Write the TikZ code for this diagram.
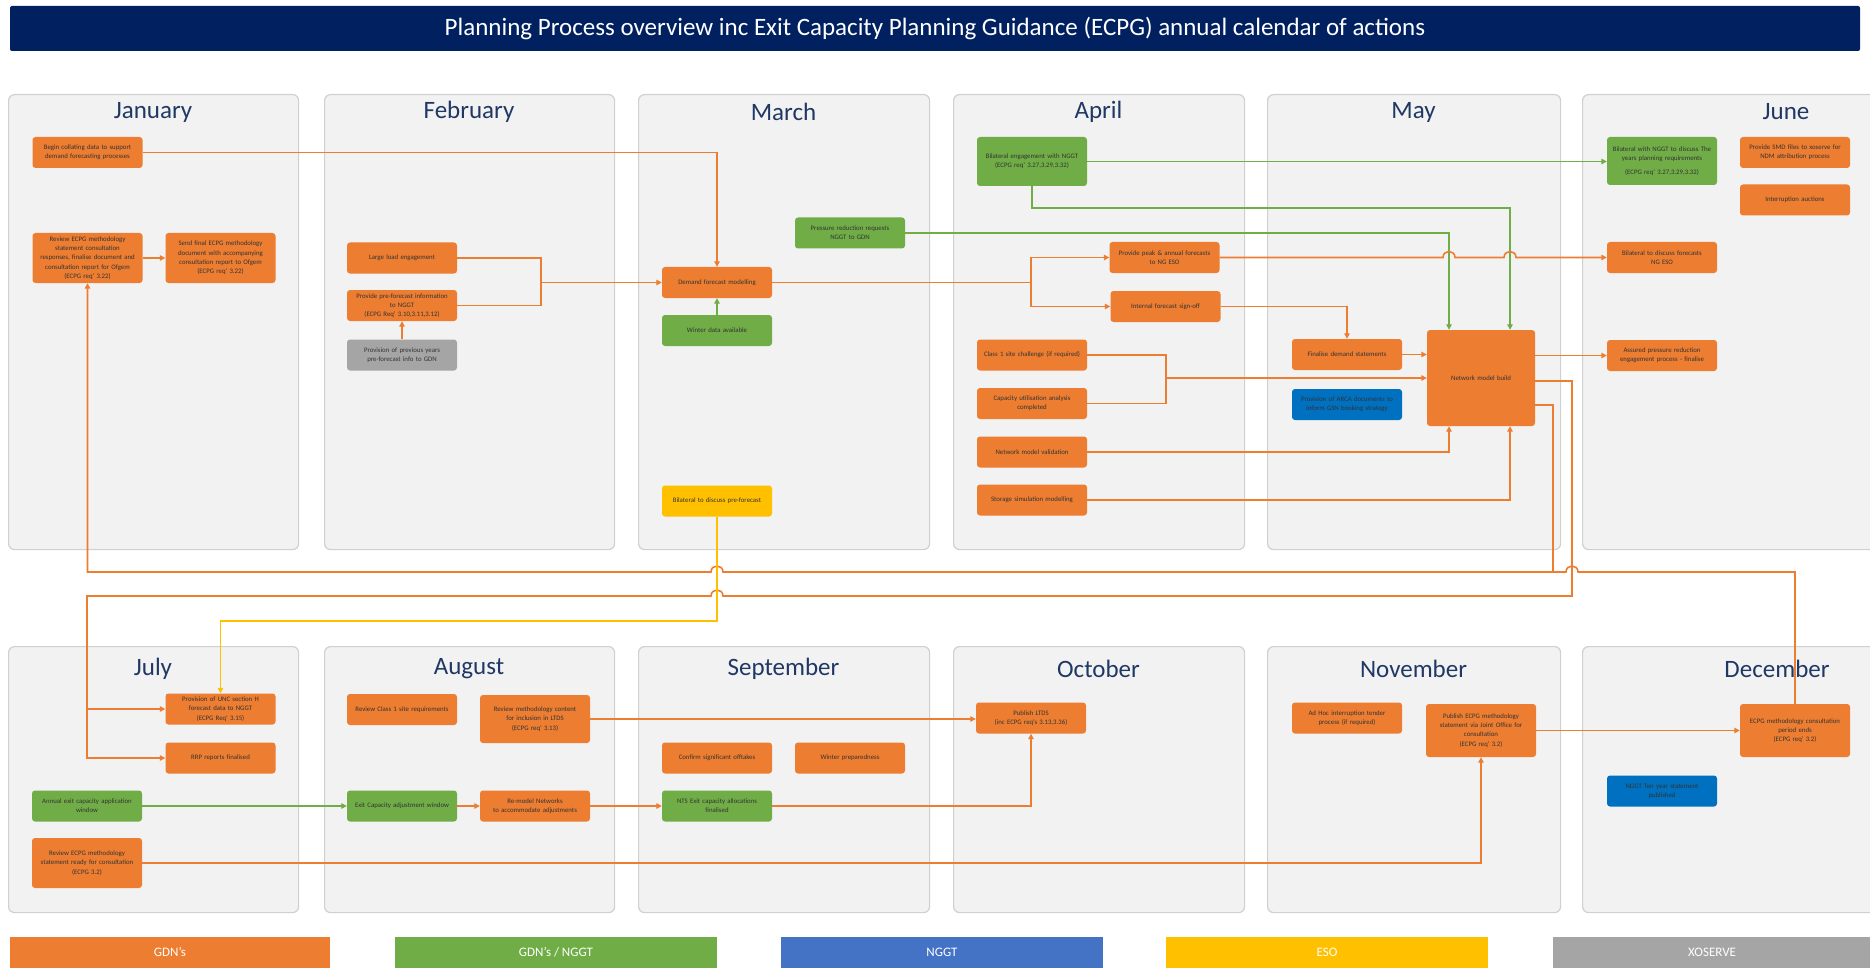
\documentclass[tikz,border=0pt]{standalone}
\usepackage{fontspec}
\setmainfont{Carlito}
\usetikzlibrary{arrows.meta}
\definecolor{navy}{HTML}{002060}
\definecolor{mtitle}{HTML}{1F3864}
\definecolor{ora}{HTML}{ED7D31}
\definecolor{grn}{HTML}{70AD47}
\definecolor{ylw}{HTML}{FFC000}
\definecolor{gry}{HTML}{A5A5A5}
\definecolor{blu}{HTML}{0070C0}
\definecolor{lblu}{HTML}{4472C4}
\definecolor{mfill}{HTML}{F2F2F2}
\definecolor{mline}{HTML}{D0D0D0}
\definecolor{ntext}{HTML}{333333}
\tikzset{
  task/.style={rounded corners=3pt, text width=104pt, align=center, minimum width=110pt,
    minimum height=31pt, inner xsep=3pt, inner ysep=2pt, font=\fontsize{6.8}{9.3}\selectfont, text=ntext},
  ot/.style={task, fill=ora},
  gt/.style={task, fill=grn},
  yt/.style={task, fill=ylw},
  st/.style={task, fill=gry},
  bt/.style={task, fill=blu},
  month/.style={draw=mline, line width=1.2pt, fill=mfill, rounded corners=6pt, anchor=north west},
  mname/.style={font=\fontsize{25}{28}\selectfont, text=mtitle},
  tip/.style={-{Triangle[length=5.5pt,width=5.5pt]}},
  ol/.style={line width=1.6pt, draw=ora},
  oc/.style={ol, tip},
  gl/.style={line width=1.6pt, draw=grn},
  gc/.style={gl, tip},
  yc/.style={line width=1.6pt, draw=ylw, tip},
  legend/.style={minimum width=320pt, minimum height=40pt, anchor=north west, inner sep=0pt},
  legtext/.style={text=white, font=\fontsize{13}{15}\selectfont}
}
\begin{document}
\begin{tikzpicture}[x=1pt,y=-1pt]
\useasboundingbox (0,0) rectangle (1870,968);
\fill[white] (0,0) rectangle (1870,968);

% title bar
\node[fill=navy, rounded corners=2pt, minimum width=1850pt, minimum height=45pt, text=white,
  font=\fontsize{25}{28}\selectfont] (title) at (935,28.5)
  {Planning Process overview inc Exit Capacity Planning Guidance (ECPG) annual calendar of actions};

% month panels
\node[month, minimum width=290pt, minimum height=455pt] (mjan) at (8,94) {};
\node[month, minimum width=290pt, minimum height=455pt] (mfeb) at (324,94) {};
\node[month, minimum width=291pt, minimum height=455pt] (mmar) at (638,94) {};
\node[month, minimum width=291pt, minimum height=455pt] (mapr) at (953,94) {};
\node[month, minimum width=293pt, minimum height=455pt] (mmay) at (1267,94) {};
\node[month, minimum width=310pt, minimum height=455pt] (mjun) at (1582,94) {};
\node[month, minimum width=290pt, minimum height=266pt] (mjul) at (8,646) {};
\node[month, minimum width=290pt, minimum height=266pt] (maug) at (324,646) {};
\node[month, minimum width=291pt, minimum height=266pt] (msep) at (638,646) {};
\node[month, minimum width=291pt, minimum height=266pt] (moct) at (953,646) {};
\node[month, minimum width=293pt, minimum height=266pt] (mnov) at (1267,646) {};
\node[month, minimum width=310pt, minimum height=266pt] (mdec) at (1582,646) {};

\node[mname] (tjan) at (153,112) {January};
\node[mname] (tfeb) at (469,112) {February};
\node[mname] (tmar) at (783.5,112) {March};
\node[mname] (tapr) at (1098.5,112) {April};
\node[mname] (tmay) at (1413.5,112) {May};
\node[mname] (tjun) at (1786,112) {June};
\node[mname] (tjul) at (153,669) {July};
\node[mname] (taug) at (469,669) {August};
\node[mname] (tsep) at (783.5,669) {September};
\node[mname] (toct) at (1098.5,669) {October};
\node[mname] (tnov) at (1413.5,669) {November};
\node[mname] (tdec) at (1777,669) {December};

% January
\node[ot] (collate) at (87.5,152.5) {Begin collating data to support\\demand forecasting processes};
\node[ot, minimum height=50pt] (reviewj) at (87.5,258) {Review ECPG methodology\\statement consultation\\responses, finalise document and\\consultation report for Ofgem\\(ECPG req' 3.22)};
\node[ot, minimum height=50pt] (sendf) at (220.5,258) {Send final ECPG methodology\\document with accompanying\\consultation report to Ofgem\\(ECPG req' 3.22)};
% February
\node[ot] (large) at (402,258) {Large load engagement};
\node[ot] (preinfo) at (402,305.5) {Provide pre-forecast information\\to NGGT\\(ECPG Req' 3.10,3.11,3.12)};
\node[st] (prev) at (402,355) {Provision of previous years\\pre-forecast info to GDN};
% March
\node[ot] (dfm) at (717,282.5) {Demand forecast modelling};
\node[gt] (winter) at (717,330.5) {Winter data available};
\node[gt] (press) at (850,233) {Pressure reduction requests\\NGGT to GDN};
\node[yt] (bilpre) at (717,501) {Bilateral to discuss pre-forecast};
% April
\node[gt, minimum height=49pt] (bileng) at (1032,161.5) {Bilateral engagement with NGGT\\(ECPG req' 3.27,3.29,3.32)};
\node[ot] (peak) at (1164.5,257.5) {Provide peak \& annual forecasts\\to NG ESO};
\node[ot] (intern) at (1165.5,306.5) {Internal forecast sign-off};
\node[ot] (class1) at (1032,355) {Class 1 site challenge (if required)};
\node[ot] (caput) at (1032,403.5) {Capacity utilisation analysis\\completed};
\node[ot] (nmv) at (1032,452) {Network model validation};
\node[ot] (ssm) at (1032,500) {Storage simulation modelling};
% May
\node[ot] (final) at (1347,354.5) {Finalise demand statements};
\node[bt] (arca) at (1347,404.5) {Provision of ARCA documents to\\inform GSN booking strategy};
\node[ot, minimum width=108pt, text width=100pt, minimum height=96pt] (nmb) at (1481,378) {Network model build};
% June
\node[gt, minimum height=48pt] (bilngg) at (1662,161) {Bilateral with NGGT to discuss The\\years planning requirements\\[4pt](ECPG req' 3.27,3.29,3.32)};
\node[ot] (smd) at (1795,152.5) {Provide SMD files to xoserve for\\NDM attribution process};
\node[ot] (intauc) at (1795,200) {Interruption auctions};
\node[ot] (bilfc) at (1662,257.5) {Bilateral to discuss forecasts\\NG ESO};
\node[ot] (assured) at (1662,355.5) {Assured pressure reduction\\engagement process - finalise};
% July
\node[ot] (unc) at (220.5,709) {Provision of UNC section H\\forecast data to NGGT\\(ECPG Req' 3.15)};
\node[ot] (rrp) at (220.5,758) {RRP reports finalised};
\node[gt] (annual) at (87,806) {Annual exit capacity application\\window};
\node[ot, minimum height=50pt] (reviewc) at (87,863) {Review ECPG methodology\\statement ready for consultation\\(ECPG 3.2)};
% August
\node[ot] (rc1) at (402,709.5) {Review Class 1 site requirements};
\node[ot, minimum height=48pt] (rmc) at (535,719) {Review methodology content\\for inclusion in LTDS\\(ECPG req' 3.13)};
\node[gt] (eca) at (402,806) {Exit Capacity adjustment window};
\node[ot] (remod) at (535,806) {Re-model Networks\\to accommodate adjustments};
% September
\node[ot] (cso) at (717,758) {Confirm significant offtakes};
\node[ot] (winp) at (850,758) {Winter preparedness};
\node[gt] (nts) at (717,806) {NTS Exit capacity allocations\\finalised};
% October
\node[ot] (ltds) at (1031,718) {Publish LTDS\\(inc ECPG req's 3.13,3.36)};
% November
\node[ot] (adhoc) at (1347,718) {Ad Hoc interruption tender\\process (if required)};
\node[ot, minimum height=53pt] (pubj) at (1481,730.5) {Publish ECPG methodology\\statement via Joint Office for\\consultation\\(ECPG req' 3.2)};
% December
\node[ot, minimum height=53pt] (cpe) at (1795,730.5) {ECPG methodology consultation\\period ends\\(ECPG req' 3.2)};
\node[bt] (tys) at (1662,791) {NGGT Ten year statement\\published};

% ---------- connectors ----------
\coordinate (fm) at (541,282.5);
\coordinate (sp) at (1031,282.5);
\coordinate (cm) at (1166,378);
\coordinate (yc1) at (717,621);
\coordinate (bB1) at (1572,381);
\coordinate (bB2) at (1572,596);
\coordinate (cC1) at (1553,405);
\coordinate (cC2) at (1553,572);
\coordinate (aA1) at (1795,572);
\coordinate (lx1) at (87,596);
\coordinate (lx2) at (87,709);
\coordinate (g208) at (1510,208);

\draw[oc] (collate.east) -| (dfm.north);
\draw[oc] (reviewj) -- (sendf);
\draw[ol] (large.east) -| (fm);
\draw[ol] (preinfo.east) -| (fm);
\draw[oc] (fm) -- (dfm.west);
\draw[oc] (prev.north) -- (preinfo.south);
\draw[gc] (winter.north) -- (dfm.south);
\draw[ol] (dfm.east) -- (sp);
\draw[oc] (sp) |- (peak.west);
\draw[oc] (sp) |- (intern.west);
\draw[oc] (intern.east) -| (final.north);
\draw[gc] (press.east) -| ([xshift=-32pt]nmb.north);
\draw[gc] (bileng.east) -- (bileng.east -| bilngg.west);
\draw[gc] (bileng.south) |- (g208) -- ([xshift=29pt]nmb.north);
\draw[oc] (peak.east) -- (1443,257.5) .. controls (1443,249.5) and (1455,249.5) .. (1455,257.5)
  -- (1504,257.5) .. controls (1504,249.5) and (1516,249.5) .. (1516,257.5) -- (bilfc.west);
\draw[ol] (class1.east) -| (cm);
\draw[ol] (caput.east) -| (cm);
\draw[oc] (cm) -- (nmb.west);
\draw[oc] (final.east) -- (final.east -| nmb.west);
\draw[oc] (nmv.east) -| ([xshift=-32pt]nmb.south);
\draw[oc] (ssm.east) -| ([xshift=29pt]nmb.south);
\draw[oc] (nmb.east |- assured.west) -- (assured.west);

% network model build -> July
\draw[oc] (nmb.east |- bB1) -- (bB1) -- (bB2) -- (723,596) .. controls (723,588) and (711,588) .. (711,596)
  -- (lx1) |- (rrp.west);
\draw[oc] (lx2) -- (unc.west);
% network model build -> joins line to January
\draw[ol] (nmb.east |- cC1) -- (cC1) -- (cC2);
% December -> January
\draw[oc] (cpe.north) -- (aA1) -- (1578,572) .. controls (1578,564) and (1566,564) .. (1566,572)
  -- (723,572) .. controls (723,564) and (711,564) .. (711,572) -- (reviewj.south |- aA1) -- (reviewj.south);
% yellow
\draw[yc] (bilpre.south) -- (yc1) -| (unc.north);

% bottom row
\draw[gc] (annual) -- (eca);
\draw[oc] (eca) -- (remod);
\draw[oc] (remod) -- (nts);
\draw[oc] (nts.east) -| (ltds.south);
\draw[oc] (rmc.east) -- (rmc.east -| ltds.west);
\draw[oc] (reviewc.east) -| (pubj.south);
\draw[oc] (pubj.east) -- (cpe.west);

% legend
\node[legend, fill=ora] (lg1) at (10,937) {};
\node[legend, fill=grn, minimum width=322pt] (lg2) at (395,937) {};
\node[legend, fill=lblu, minimum width=322pt] (lg3) at (781,937) {};
\node[legend, fill=ylw, minimum width=322pt] (lg4) at (1166,937) {};
\node[legend, fill=gry, minimum width=330pt] (lg5) at (1553,937) {};
\node[legtext] at (170,952) {GDN's};
\node[legtext] at (556,952) {GDN's / NGGT};
\node[legtext] at (942,952) {NGGT};
\node[legtext] at (1327,952) {ESO};
\node[legtext] at (1712,952) {XOSERVE};
\end{tikzpicture}
\end{document}
